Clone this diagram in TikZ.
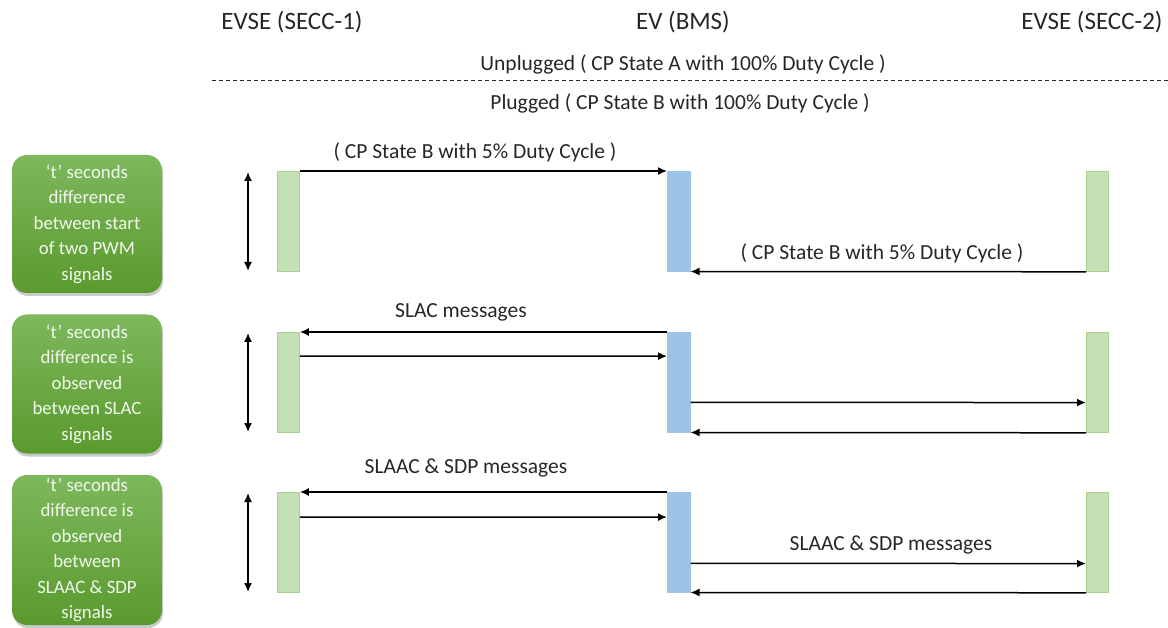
\documentclass[tikz,border=0pt]{standalone}
\usepackage{fontspec}
\setmainfont{Carlito}
\usetikzlibrary{arrows.meta,calc,shadows}
\definecolor{txt}{HTML}{262626}
\definecolor{gfill}{HTML}{C5E0B4}
\definecolor{gline}{HTML}{A9D18E}
\definecolor{bfill}{HTML}{9DC3E6}
\definecolor{btop}{HTML}{7DB85C}
\definecolor{bbot}{HTML}{5A9A2E}
\definecolor{btxt}{HTML}{F2F8EE}
\tikzset{
  head/.style={font=\fontsize{25}{29}\selectfont, text=txt},
  lbl/.style={font=\fontsize{21.5}{25}\selectfont, text=txt},
  gbar/.style={draw=gline, fill=gfill, line width=0.8pt, minimum width=22pt, minimum height=100pt, anchor=north west, inner sep=0pt},
  bbar/.style={draw=bfill, fill=bfill, line width=0.5pt, minimum width=23pt, minimum height=100pt, anchor=north west, inner sep=0pt},
  note/.style={rounded corners=15pt, top color=btop, bottom color=bbot, draw=none,
    minimum width=150pt, align=center, text=btxt, inner sep=0pt,
    font=\fontsize{18.8}{25.5}\selectfont,
    drop shadow={shadow xshift=1pt, shadow yshift=-3pt, opacity=0.35, fill=black!60}},
  arr/.style={-{Latex[length=9pt,width=8pt]}, line width=1.5pt, black},
  darr/.style={{Latex[length=9pt,width=8pt]}-{Latex[length=9pt,width=8pt]}, line width=1.5pt, black}
}
\begin{document}
\begin{tikzpicture}[x=1pt,y=-1pt]
\useasboundingbox (0,0) rectangle (1168,628);
% headings
\node[head] (h1) at (292,22) {EVSE (SECC-1)};
\node[head] (h2) at (683,22) {EV (BMS)};
\node[head] (h3) at (1092,22) {EVSE (SECC-2)};
\node[lbl] (unp) at (683,64) {Unplugged ( CP State A with 100\% Duty Cycle )};
\coordinate (dl) at (212,80);
\coordinate (dr) at (1168,80);
\draw[dashed, dash pattern=on 4pt off 3pt, line width=0.9pt, txt] (dl) -- (dr);
\node[lbl] (plg) at (680,103) {Plugged ( CP State B with 100\% Duty Cycle )};
% notes
\node[note, minimum height=138pt] (n1) at (87,224) {‘t’ seconds\\difference\\between start\\of two PWM\\signals};
\node[note, minimum height=139pt] (n2) at (87,384) {‘t’ seconds\\difference is\\observed\\between SLAC\\signals};
\node[note, minimum height=150pt] (n3) at (87,550) {‘t’ seconds\\difference is\\observed\\between\\SLAAC \& SDP\\signals};
% bars
\foreach \r/\y in {1/171,2/332,3/492}{
  \node[gbar] (s\r) at (277,\y) {};
  \node[bbar] (e\r) at (667,\y) {};
  \node[gbar] (t\r) at (1086,\y) {};
  \coordinate (da\r) at (248,\y+1);
  \coordinate (db\r) at (248,\y+100);
  \draw[darr] (da\r) -- (db\r);
}
% row 1
\draw[arr] (s1.north east) -- (e1.north west);
\node[lbl] (l1) at (475,152) {( CP State B with 5\% Duty Cycle )};
\draw[arr] (t1.south west) -- (e1.south east);
\node[lbl] (l2) at (882,253) {( CP State B with 5\% Duty Cycle )};
% row 2
\draw[arr] (e2.north west) -- (s2.north east);
\node[lbl] (l3) at (461,312) {SLAC messages};
\draw[arr] ($(s2.north east)!0.24!(s2.south east)$) -- ($(e2.north west)!0.24!(e2.south west)$);
\draw[arr] ($(e2.north east)!0.70!(e2.south east)$) -- ($(t2.north west)!0.70!(t2.south west)$);
\draw[arr] (t2.south west) -- (e2.south east);
% row 3
\draw[arr] (e3.north west) -- (s3.north east);
\node[lbl] (l4) at (466,468) {SLAAC \& SDP messages};
\draw[arr] ($(s3.north east)!0.25!(s3.south east)$) -- ($(e3.north west)!0.25!(e3.south west)$);
\draw[arr] ($(e3.north east)!0.71!(e3.south east)$) -- ($(t3.north west)!0.71!(t3.south west)$);
\node[lbl] (l5) at (891,545) {SLAAC \& SDP messages};
\draw[arr] (t3.south west) -- (e3.south east);
\end{tikzpicture}
\end{document}
